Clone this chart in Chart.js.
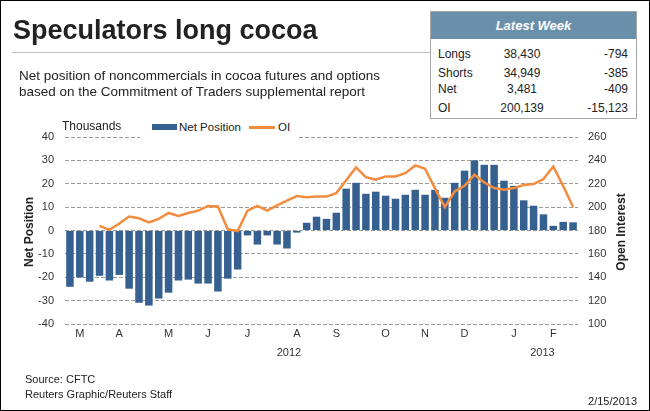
<!DOCTYPE html>
<html>
<head>
<meta charset="utf-8">
<script src="https://cdn.jsdelivr.net/npm/chart.js@4.4.1/dist/chart.umd.min.js"></script>
<style>
  body { margin: 0; background: #fff; font-family: 'Liberation Sans', Arial, sans-serif; color: #222; }
  #wrap { position: relative; width: 650px; height: 411px; overflow: hidden; }
  #frame { position: absolute; left: 0; top: 0; width: 650px; height: 411px; border: 1px solid #000; box-sizing: border-box; pointer-events: none; }
  canvas { position: absolute; left: 0; top: 0; }
  .t { position: absolute; white-space: nowrap; }
</style>
</head>
<body>
<div id="wrap">
  <canvas id="mycanvas" width="650" height="411"></canvas>

  <div class="t" style="left:13px; top:15px; font-size:27px; line-height:30px; font-weight:bold; color:#222;">Speculators long cocoa</div>
  <div style="position:absolute; left:12px; top:52px; width:418px; height:1px; background:#bdbdbd;"></div>
  <div class="t" style="left:19px; top:68px; font-size:13.5px; line-height:16px; color:#222;">Net position of noncommercials in cocoa futures and options<br>based on the Commitment of Traders supplemental report</div>

  <div style="position:absolute; left:430px; top:11px; width:207px; height:108px; border:1px solid #a6a6a6; box-sizing:border-box; background:#fff;">
    <div style="height:27px; line-height:27px; background:#6a8fab; color:#fff; text-align:center; font-weight:bold; font-style:italic; font-size:13px;">Latest Week</div>
  </div>
  <div class="t" style="left:438px; top:47px; font-size:12px; line-height:14px;">Longs</div>
  <div class="t" style="left:482px; width:80px; text-align:center; top:47px; font-size:12px; line-height:14px;">38,430</div>
  <div class="t" style="right:22px; top:47px; font-size:12px; line-height:14px;">-794</div>
  <div class="t" style="left:438px; top:66px; font-size:12px; line-height:14px;">Shorts</div>
  <div class="t" style="left:482px; width:80px; text-align:center; top:66px; font-size:12px; line-height:14px;">34,949</div>
  <div class="t" style="right:22px; top:66px; font-size:12px; line-height:14px;">-385</div>
  <div class="t" style="left:438px; top:82px; font-size:12px; line-height:14px;">Net</div>
  <div class="t" style="left:482px; width:80px; text-align:center; top:82px; font-size:12px; line-height:14px;">3,481</div>
  <div class="t" style="right:22px; top:82px; font-size:12px; line-height:14px;">-409</div>
  <div class="t" style="left:438px; top:101px; font-size:12px; line-height:14px;">OI</div>
  <div class="t" style="left:482px; width:80px; text-align:center; top:101px; font-size:12px; line-height:14px;">200,139</div>
  <div class="t" style="right:22px; top:101px; font-size:12px; line-height:14px;">-15,123</div>

  <div class="t" style="left:62px; top:119px; font-size:12px; line-height:14px; color:#222;">Thousands</div>
  <div style="position:absolute; left:140px; top:119px; width:157px; height:21px; background:#fff;"></div>
  <div style="position:absolute; left:152px; top:124px; width:25px; height:6px; background:#36608f;"></div>
  <div class="t" style="left:179px; top:120px; font-size:11.5px; line-height:14px; color:#222;">Net Position</div>
  <div style="position:absolute; left:249px; top:126px; width:26px; height:2.5px; background:#f38c3f;"></div>
  <div class="t" style="left:278px; top:120px; font-size:11.5px; line-height:14px; color:#222;">OI</div>

  <div class="t" style="left:29px; top:232px; font-size:12px; line-height:14px; font-weight:bold; color:#222; transform:translate(-50%,-50%) rotate(-90deg);">Net Position</div>
  <div class="t" style="left:621px; top:232px; font-size:12px; line-height:14px; font-weight:bold; color:#222; transform:translate(-50%,-50%) rotate(-90deg);">Open Interest</div>

  <div class="t" style="left:25px; top:372px; font-size:11px; line-height:14px; color:#222;">Source: CFTC</div>
  <div class="t" style="left:25px; top:387px; font-size:11px; line-height:14px; color:#222;">Reuters Graphic/Reuters Staff</div>
  <div class="t" style="right:13px; top:394px; font-size:11px; line-height:14px; color:#222;">2/15/2013</div>

  <div id="frame"></div>
</div>

<script>
// weekly net position of noncommercials, thousands of contracts
var netPos = [
  -24.1, -20.1, -21.9, -19.4, -21.4, -19.0, -24.9, -30.9, -32.1, -29.1,
  -26.6, -21.4, -21.0, -22.7, -22.7, -26.1, -20.6, -16.7, -2.1, -6.0,
  -2.1, -6.0, -7.7, -0.9, 3.3, 5.9, 5.0, 7.6, 17.9, 20.4,
  15.7, 16.6, 14.9, 13.6, 15.3, 17.4, 15.3, 17.4, 14.0, 20.4,
  25.6, 30.0, 28.1, 28.1, 21.3, 19.1, 12.9, 10.6, 6.9, 2.0,
  3.7, 3.5
];
// open interest, thousands (starts at week 4)
var openInt = [
  null, null, null, 184, 180.6, 186, 192, 190.5, 187, 190,
  195, 192.5, 195, 197, 201, 200.5, 181, 179.5, 197, 201,
  197, 201.5, 205.5, 209.5, 208.5, 209, 209, 212, 223, 234,
  225.7, 223.4, 226.3, 226.3, 229.1, 235.7, 232.8, 216, 200, 213.4,
  218.3, 227.7, 221.1, 216.3, 214.9, 216.3, 218.9, 219.7, 224, 234.8,
  218, 200.1
];
var months = ['M', 'A', 'M', 'J', 'J', 'A', 'S', 'O', 'N', 'D', 'J', 'F'];
var monthIdx = [1, 5, 10, 14, 18, 23, 27, 32, 36, 40, 45, 49];
var years = ['2012', '2013'];
var yearPos = [22.2, 47.9];

var weekLabels = netPos.map(function(v, i) {
  var k = monthIdx.indexOf(i);
  return k >= 0 ? months[k] : '';
});

var tickFont = { family: "'Liberation Sans', Arial, sans-serif", size: 11 };

var ctx = document.getElementById('mycanvas');
var chart = new Chart(ctx, {
  type: 'bar',
  data: {
    labels: weekLabels,
    datasets: [
      {
        type: 'line',
        label: 'OI',
        data: openInt,
        yAxisID: 'y2',
        borderColor: '#f38c3f',
        backgroundColor: '#f38c3f',
        borderWidth: 2.5,
        pointRadius: 0,
        tension: 0,
        order: 0
      },
      {
        label: 'Net Position',
        data: netPos,
        yAxisID: 'y',
        backgroundColor: '#36608f',
        barPercentage: 0.76,
        categoryPercentage: 1,
        order: 1
      }
    ]
  },
  options: {
    responsive: false,
    animation: false,
    layout: { padding: { left: 0, right: 0, top: 137, bottom: 49 } },
    plugins: { legend: { display: false }, tooltip: { enabled: false } },
    scales: {
      x: {
        type: 'category',
        position: 'bottom',
        weight: 0,
        offset: true,
        grid: { display: false, drawTicks: false },
        border: { display: false },
        ticks: { autoSkip: false, maxRotation: 0, padding: 3, color: '#333', font: tickFont },
        afterFit: function(s) { s.height = 18; }
      },
      x2: {
        type: 'linear',
        axis: 'x',
        position: 'bottom',
        weight: 1,
        offset: false,
        min: -0.5,
        max: 51.5,
        grid: { display: false, drawTicks: false, offset: false },
        border: { display: false },
        afterBuildTicks: function(s) {
          s.ticks = yearPos.map(function(v) { return { value: v }; });
        },
        ticks: {
          autoSkip: false, maxRotation: 0, padding: 4, color: '#333', font: tickFont,
          callback: function(v, i) { return years[i]; }
        },
        afterFit: function(s) { s.height = 20; }
      },
      y: {
        position: 'left',
        min: -40,
        max: 40,
        grid: { display: true, color: '#999999', lineWidth: 1, drawTicks: false, drawOnChartArea: true },
        border: { display: false, dash: [4, 2] },
        ticks: { stepSize: 10, padding: 11, color: '#333', font: tickFont },
        afterFit: function(s) { s.width = 65; }
      },
      y2: {
        position: 'right',
        min: 100,
        max: 260,
        grid: { display: false, drawTicks: false },
        border: { display: false },
        ticks: { stepSize: 20, padding: 10, color: '#333', font: tickFont },
        afterFit: function(s) { s.width = 72; }
      }
    }
  }
});
</script>
</body>
</html>
